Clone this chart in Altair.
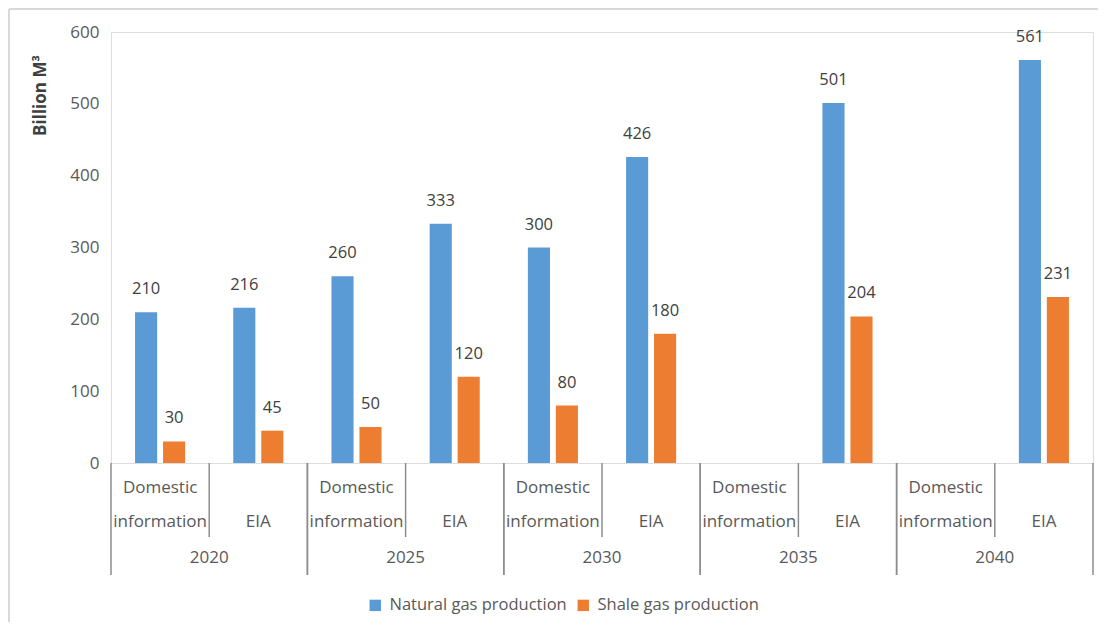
import altair as alt
import pandas as pd

years = ["2020", "2025", "2030", "2035", "2040"]
sources = ["Domestic information", "EIA"]
series = ["Natural gas production", "Shale gas production"]
natural_gas = [210, 216, 260, 333, 300, 426, None, 501, None, 561]
shale_gas = [30, 45, 50, 120, 80, 180, None, 204, None, 231]
colors = ["#5B9BD5", "#ED7D31"]

FONT = "Open Sans"
cats = [f"{y}|{s}" for y in years for s in sources]

rows = []
for i, c in enumerate(cats):
    for name, vals in zip(series, [natural_gas, shale_gas]):
        if vals[i] is not None:
            rows.append({"cat": c, "series": name, "value": vals[i]})
bars_df = pd.DataFrame(rows)

lab_rows = []
for y in years:
    lab_rows.append({"cat": f"{y}|Domestic information", "l1": "Domestic", "l2": "information", "source": "Domestic information", "year": y})
    lab_rows.append({"cat": f"{y}|EIA", "l1": "", "l2": "EIA", "source": "EIA", "year": y})
lab_df = pd.DataFrame(lab_rows)
year_df = pd.DataFrame({"year": years})

W, H = 982, 431
xs = alt.Scale(domain=cats, paddingInner=0, paddingOuter=0)
ys = alt.Scale(domain=[0, 600])
xo = alt.Scale(domain=series, paddingInner=0.21, paddingOuter=0.86)
yr = alt.Scale(domain=years, paddingInner=0, paddingOuter=0)

bars = alt.Chart(bars_df).mark_bar().encode(
    x=alt.X("cat:N", scale=xs, axis=None),
    xOffset=alt.XOffset("series:N", scale=xo),
    y=alt.Y("value:Q", scale=ys,
            axis=alt.Axis(values=[0, 100, 200, 300, 400, 500, 600], grid=False, ticks=False,
                          domain=False, labelFont=FONT, labelFontSize=17, labelColor="#595959",
                          labelPadding=12, title="Billion M³", titleFont=FONT, titleFontSize=17,
                          titleFontWeight="bold", titleColor="#404040", titleX=-71, titleY=63,
                          titleAngle=-90, titleAlign="center", titleBaseline="middle")),
    color=alt.Color("series:N", scale=alt.Scale(domain=series, range=colors),
                    legend=alt.Legend(title=None, orient="none", legendX=256, legendY=565,
                                      direction="horizontal", symbolType="square", symbolSize=130,
                                      symbolStrokeWidth=0, labelFont=FONT, labelFontSize=16.5,
                                      labelColor="#595959", columnPadding=8, labelOffset=6,
                                      labelLimit=0)),
)

vals = alt.Chart(bars_df).mark_text(font=FONT, fontSize=16.5, color="#404040", dy=-23, baseline="middle").encode(
    x=alt.X("cat:N", scale=xs, axis=None),
    xOffset=alt.XOffset("series:N", scale=xo),
    y=alt.Y("value:Q", scale=ys),
    text="value:Q",
)

txt_kw = dict(font=FONT, fontSize=17, color="#595959", baseline="middle")
l1 = alt.Chart(lab_df).mark_text(**txt_kw).encode(
    x=alt.X("cat:N", scale=xs, axis=None), y=alt.value(456), text="l1:N")
l2 = alt.Chart(lab_df).mark_text(**txt_kw).encode(
    x=alt.X("cat:N", scale=xs, axis=None), y=alt.value(490), text="l2:N")

sub_sep = alt.Chart(lab_df).transform_filter(alt.datum.source == "EIA").mark_rule(
    color="#8c8c8c", strokeWidth=1.5).encode(
    x=alt.X("cat:N", scale=xs, axis=None, bandPosition=0), y=alt.value(431), y2=alt.value(505))

yl = alt.Chart(year_df).mark_text(**txt_kw).encode(
    x=alt.X("year:N", scale=yr, axis=None), y=alt.value(526), text="year:N")
ysep0 = alt.Chart(year_df).mark_rule(color="#8c8c8c", strokeWidth=1.5).encode(
    x=alt.X("year:N", scale=yr, axis=None, bandPosition=0), y=alt.value(431), y2=alt.value(543))
ysep1 = alt.Chart(year_df).mark_rule(color="#8c8c8c", strokeWidth=1.5).encode(
    x=alt.X("year:N", scale=yr, axis=None, bandPosition=1), y=alt.value(431), y2=alt.value(543))

border_top = alt.Chart(year_df).mark_rule(color="#d9d9d9", strokeWidth=2).encode(
    x=alt.value(-102), x2=alt.value(1100), y=alt.value(-23))
border_left = alt.Chart(year_df).mark_rule(color="#d9d9d9", strokeWidth=2).encode(
    x=alt.value(-102), y=alt.value(-23), y2=alt.value(700))

chart = alt.layer(border_top, border_left, bars, vals, l1, l2, sub_sep, yl, ysep0, ysep1).resolve_scale(
    x="independent").properties(
    width=W, height=H,
    autosize=alt.AutoSizeParams(type="none"),
    padding={"left": 103, "top": 24, "right": 5, "bottom": 159},
).configure_view(stroke="#898989", strokeWidth=1.5).configure(background="white")

chart.save("out.html", embed_options={"renderer": "svg", "actions": False})
